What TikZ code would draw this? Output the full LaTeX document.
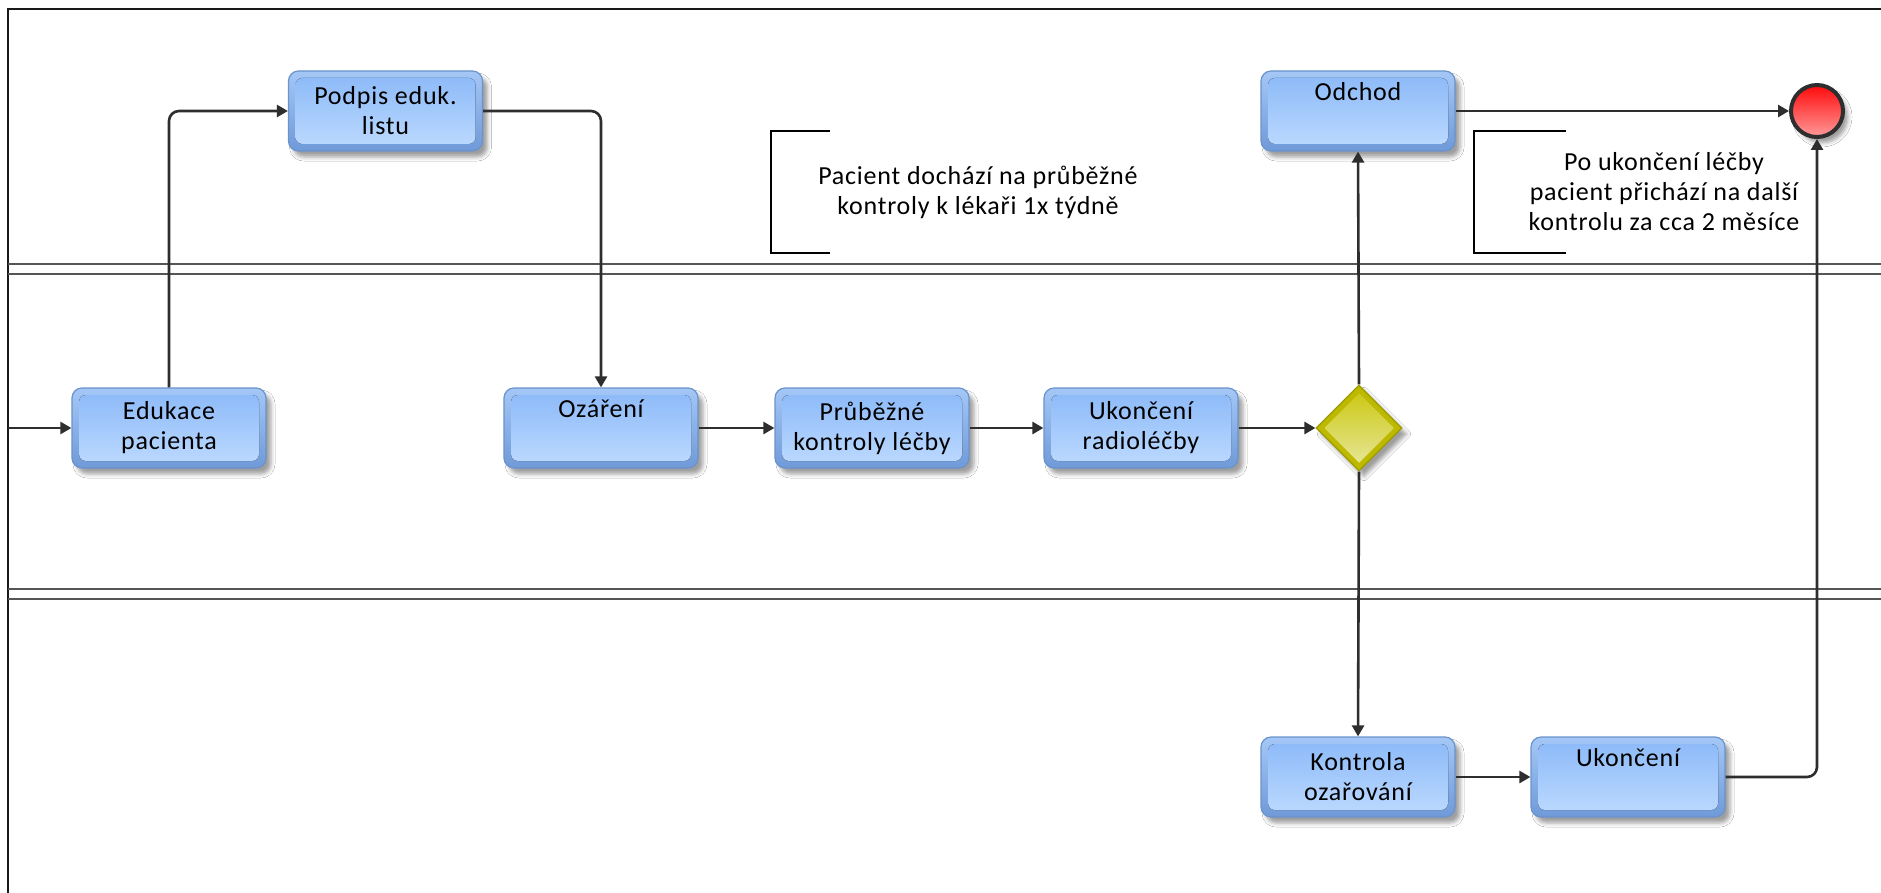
\documentclass[tikz,border=0pt]{standalone}
\usepackage{fontspec}
\setmainfont{Carlito}
\newfontfamily\diagramfamily[LetterSpace=3]{Carlito}
\usetikzlibrary{shapes.geometric,arrows.meta,shadows.blur}

\definecolor{flowline}{HTML}{2E2E2E}
\definecolor{laneline}{HTML}{555555}
\definecolor{taskedge}{HTML}{6B93CC}
\definecolor{taskoutertop}{HTML}{A4C7F6}
\definecolor{taskouterbot}{HTML}{6F9AD8}
\definecolor{taskinnertop}{HTML}{8AB8F8}
\definecolor{taskinnerbot}{HTML}{BEDBFF}
\definecolor{gwedge}{HTML}{9E9A00}
\definecolor{gwouter}{HTML}{BDB900}
\definecolor{gwinnertop}{HTML}{C9C508}
\definecolor{gwinnerbot}{HTML}{E9E9A2}
\definecolor{endtop}{HTML}{FF0A0A}
\definecolor{endbot}{HTML}{FF9A9A}

\newcommand{\labelfont}{\diagramfamily\fontsize{26}{30}\selectfont}

\tikzset{
  softshadow/.style={blur shadow={shadow xshift=5pt, shadow yshift=-6pt,
      shadow blur radius=4pt, shadow opacity=38}},
  task/.style={rectangle, rounded corners=10, minimum width=194, minimum height=80,
    inner sep=0pt, align=center, font=\labelfont, draw=taskedge, line width=1.2,
    top color=taskoutertop, bottom color=taskouterbot, softshadow,
    path picture={
      \fill[rounded corners=7, top color=taskinnertop, bottom color=taskinnerbot]
        ([shift={(7,7)}]path picture bounding box.north west) rectangle
        ([shift={(-7,-7)}]path picture bounding box.south east);
    }},
  gateway/.style={diamond, minimum width=86, minimum height=86, inner sep=0pt,
    draw=gwedge, line width=1.2, fill=gwouter, softshadow,
    path picture={
      \fill[top color=gwinnertop, bottom color=gwinnerbot]
        ([yshift=-8pt]path picture bounding box.north) --
        ([xshift=-8pt]path picture bounding box.east) --
        ([yshift=8pt]path picture bounding box.south) --
        ([xshift=8pt]path picture bounding box.west) -- cycle;
    }},
  endevent/.style={circle, minimum size=52, inner sep=0pt, draw=flowline,
    line width=4, top color=endtop, bottom color=endbot, softshadow},
  flow/.style={draw=flowline, line width=2.6, rounded corners=10,
    -{Triangle[length=11,width=12]}},
  lane/.style={draw=laneline, line width=2},
  frame/.style={draw=black!90, line width=2.5},
  note/.style={rectangle, minimum height=122, inner sep=0pt, align=center,
    font=\labelfont},
  bracket/.style={draw=black, line width=2.5}
}

\begin{document}
\begin{tikzpicture}[x=1pt,y=-1pt]
\useasboundingbox (0,0) rectangle (1881,893);
\fill[white] (0,0) rectangle (1881,893);

% pool frame and lane separators
\draw[frame] (8,893) -- (8,9) -- (1881,9);
\draw[lane] (8,264) -- (1881,264);
\draw[lane] (8,274) -- (1881,274);
\draw[lane] (8,589) -- (1881,589);
\draw[lane] (8,599) -- (1881,599);

% activities
\node[task] (podpis)   at (385.5,111) {Podpis eduk.\\listu};
\node[task] (edukace)  at (169,428)   {Edukace\\pacienta};
\node[task] (ozareni)  at (601,428)   {Ozáření\\\strut};
\node[task] (kontroly) at (872,428)   {Průběžné\\kontroly léčby};
\node[task] (ukradio)  at (1141,428)  {Ukončení\\radioléčby};
\node[task] (odchod)   at (1358,111)  {Odchod\\\strut};
\node[task] (kontrola) at (1358,777)  {Kontrola\\ozařování};
\node[task] (ukonceni) at (1628,777)  {Ukončení\\\strut};

% gateway and end event
\node[gateway]  (gw)  at (1359,428) {};
\node[endevent] (end) at (1817,111) {};

% annotations
\node[note, minimum width=414] (note1) at (978,192)
  {Pacient dochází na průběžné\\kontroly k lékaři 1x týdně};
\node[note, minimum width=380] (note2) at (1664,192)
  {Po ukončení léčby\\pacient přichází na další\\kontrolu za cca 2 měsíce};
\draw[bracket] ([xshift=59pt]note1.north west) -- (note1.north west)
  -- (note1.south west) -- ([xshift=59pt]note1.south west);
\draw[bracket] ([xshift=92pt]note2.north west) -- (note2.north west)
  -- (note2.south west) -- ([xshift=92pt]note2.south west);

% sequence flows
\coordinate (start) at (8,428);
\draw[flow] (start) -- (edukace.west);
\draw[flow] (edukace.north) |- (podpis.west);
\draw[flow] (podpis.east) -| (ozareni.north);
\draw[flow] (ozareni.east) -- (kontroly.west);
\draw[flow] (kontroly.east) -- (ukradio.west);
\draw[flow] (ukradio.east) -- (gw.west);
\draw[flow] (gw.north) -- (odchod.south);
\draw[flow] (gw.south) -- (kontrola.north);
\draw[flow] (odchod.east) -- (end.west);
\draw[flow] (kontrola.east) -- (ukonceni.west);
\draw[flow] (ukonceni.east) -| (end.south);
\end{tikzpicture}
\end{document}
